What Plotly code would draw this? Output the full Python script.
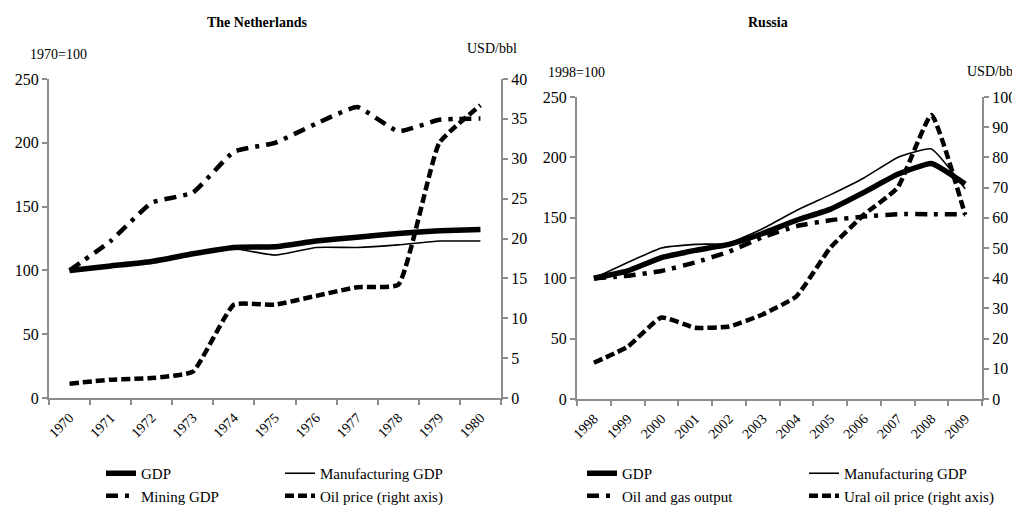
import plotly.graph_objects as go

# ---------------- data ----------------
nl_years = [str(y) for y in range(1970, 1981)]
nl_gdp = [100, 103.5, 107, 113, 118, 118.5, 123, 126, 129, 131, 132]
nl_manuf = [100, 104, 106, 112, 117, 112, 118, 118, 120, 123, 123]
nl_mining = [100, 123, 153, 161, 193, 200, 215, 228, 209, 218, 219]
nl_oil = [1.8, 2.3, 2.5, 3.3, 11.7, 11.7, 12.8, 13.9, 14.2, 32.0, 36.7]

ru_years = [str(y) for y in range(1998, 2010)]
ru_gdp = [100, 106, 117, 123, 128, 137, 148, 157, 171, 186, 195, 178]
ru_manuf = [100, 113, 125, 128, 129, 141, 156, 169, 183, 200, 207, 174]
ru_oilgas = [100, 102, 106, 113, 122, 134, 143, 148, 151, 153, 153, 153]
ru_oil = [12, 17.3, 27, 23.6, 24, 28, 34, 50, 61, 70, 94, 61]

FONT = "'Liberation Serif', 'Times New Roman', 'DejaVu Serif', serif"
# the page places the figure 8 px from the window's top-left corner
OFF = 8
W, H = 1020 - OFF, 511 - OFF
AX = "#8c8c8c"
DASHDOT = "12px,7px,4px,7px"
DASH = "9px,4px"

def px(x):
    return (x - OFF) / W

def py(y):
    return 1 - (y - OFF) / H

fig = go.Figure()
SH = dict(shape="spline", smoothing=0.4)

# Netherlands
fig.add_trace(go.Scatter(x=nl_years, y=nl_gdp, name="GDP", mode="lines",
                         line=dict(color="black", width=5.5, **SH),
                         xaxis="x", yaxis="y", legend="legend"))
fig.add_trace(go.Scatter(x=nl_years, y=nl_manuf, name="Manufacturing GDP", mode="lines",
                         line=dict(color="black", width=1.6, **SH),
                         xaxis="x", yaxis="y", legend="legend2"))
fig.add_trace(go.Scatter(x=nl_years, y=nl_mining, name="Mining GDP", mode="lines",
                         line=dict(color="black", width=4.5, dash=DASHDOT, **SH),
                         xaxis="x", yaxis="y", legend="legend"))
fig.add_trace(go.Scatter(x=nl_years, y=nl_oil, name="Oil price (right axis)", mode="lines",
                         line=dict(color="black", width=4.5, dash=DASH, **SH),
                         xaxis="x", yaxis="y2", legend="legend2"))

# Russia
fig.add_trace(go.Scatter(x=ru_years, y=ru_gdp, name="GDP", mode="lines",
                         line=dict(color="black", width=5.5, **SH),
                         xaxis="x2", yaxis="y3", legend="legend3"))
fig.add_trace(go.Scatter(x=ru_years, y=ru_manuf, name="Manufacturing GDP", mode="lines",
                         line=dict(color="black", width=1.6, **SH),
                         xaxis="x2", yaxis="y3", legend="legend4"))
fig.add_trace(go.Scatter(x=ru_years, y=ru_oilgas, name="Oil and gas output", mode="lines",
                         line=dict(color="black", width=4.5, dash=DASHDOT, **SH),
                         xaxis="x2", yaxis="y3", legend="legend3"))
fig.add_trace(go.Scatter(x=ru_years, y=ru_oil, name="Ural oil price (right axis)", mode="lines",
                         line=dict(color="black", width=4.5, dash=DASH, **SH),
                         xaxis="x2", yaxis="y4", legend="legend4"))

common_x = dict(type="category", showline=True, linecolor=AX, linewidth=2,
                ticks="outside", ticklen=5, tickcolor=AX, tickwidth=2,
                tickson="boundaries", tickangle=-45, showgrid=False, zeroline=False,
                ticklabelstandoff=4, automargin=False,
                tickfont=dict(family=FONT, size=14, color="black"), fixedrange=True)
common_y = dict(showline=True, linecolor=AX, linewidth=2, ticks="outside", ticklen=5,
                tickcolor=AX, tickwidth=2, showgrid=False, zeroline=False, automargin=False,
                tickfont=dict(family=FONT, size=16, color="black"), fixedrange=True)

L_x0, L_x1 = px(49), px(501)
L_y0, L_y1 = py(398), py(79)
R_x0, R_x1 = px(577), px(982)
R_y0, R_y1 = py(399), py(97)

legend_common = dict(font=dict(family=FONT, size=15, color="black"),
                     bgcolor="rgba(0,0,0,0)", xanchor="left", yanchor="top",
                     orientation="v", tracegroupgap=0)
LEG_Y = py(457)

fig.update_layout(
    width=W, height=H,
    margin=dict(l=0, r=0, t=0, b=0, autoexpand=False),
    paper_bgcolor="white", plot_bgcolor="white",
    font=dict(family=FONT, color="black"),
    xaxis=dict(domain=[L_x0, L_x1], anchor="y", range=[-0.5, len(nl_years) - 0.5], **common_x),
    yaxis=dict(domain=[L_y0, L_y1], anchor="x", range=[0, 250], dtick=50, **common_y),
    yaxis2=dict(overlaying="y", side="right", anchor="x", range=[0, 40], dtick=5, **common_y),
    xaxis2=dict(domain=[R_x0, R_x1], anchor="y3", range=[-0.5, len(ru_years) - 0.5], **common_x),
    yaxis3=dict(domain=[R_y0, R_y1], anchor="x2", range=[0, 250], dtick=50, **common_y),
    yaxis4=dict(overlaying="y3", side="right", anchor="x2", range=[0, 100], dtick=10, **common_y),
    legend=dict(x=px(101), y=LEG_Y, **legend_common),
    legend2=dict(x=px(280), y=LEG_Y, **legend_common),
    legend3=dict(x=px(582), y=LEG_Y, **legend_common),
    legend4=dict(x=px(804), y=LEG_Y, **legend_common),
    showlegend=True,
)

annos = [
    dict(text="<b>The Netherlands</b>", x=px(257), y=py(22), size=14),
    dict(text="<b>Russia</b>", x=px(768), y=py(22), size=14),
    dict(text="1970=100", x=px(58), y=py(54), size=14),
    dict(text="USD/bbl", x=px(492), y=py(48), size=14),
    dict(text="1998=100", x=px(576), y=py(73), size=14),
    dict(text="USD/bbl", x=px(992), y=py(72), size=14),
]
for a in annos:
    fig.add_annotation(text=a["text"], x=a["x"], y=a["y"], xref="paper", yref="paper",
                       xanchor="center", yanchor="middle", showarrow=False,
                       font=dict(family=FONT, size=a["size"], color="black"))

fig.write_html("out.html")
